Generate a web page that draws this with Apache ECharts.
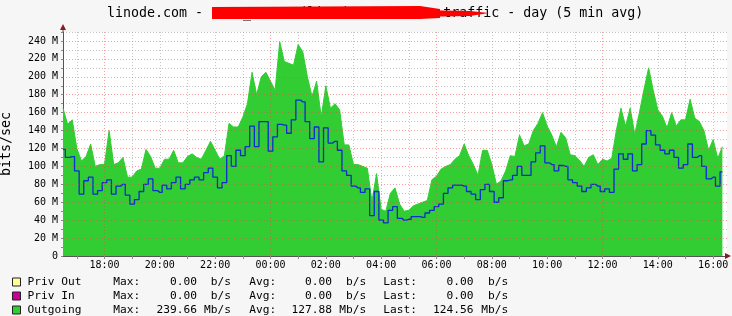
<!DOCTYPE html>
<html>
<head>
<meta charset="utf-8">
<script src="https://cdn.jsdelivr.net/npm/echarts@6/dist/echarts.min.js"></script>
<style>
html,body{margin:0;padding:0;background:#f6f6f6;}
#c{width:732px;height:316px;}
</style>
</head>
<body>
<div id="c"></div>
<script>
// ---------- data ----------
const titleText = 'linode.com - LISE_MAS01 (linode2332888) - traffic - day (5 min avg)';
const yAxisName = 'bits/sec';
const startMinutes = 16 * 60 + 30;   // 16:30
const stepMinutes = 10;
const slotCount = 145;               // 16:30 .. 16:30 next day

// Outgoing (green area), Mbit/s, one value per 10 minutes from 16:30
const outgoing = [
  165,147,152,120,106,111,125,100,102,102,
  140,102,104,110,88,88,95,97,119,111,
  98,98,108,108,118,104,104,111,114,110,
  108,118,128,118,108,112,148,144,144,155,
  170,205,180,200,205,195,185,239,
  217,215,213,236,228,200,178,195,155,190,
  165,170,163,124,124,102,102,100,98,61,
  92,52,50,70,76,58,50,51,56,58,
  60,62,85,89,97,100,102,108,112,125,
  112,102,90,118,118,102,80,
  84,95,112,111,135,123,125,140,148,160,
  145,135,122,138,132,113,112,107,100,110,
  113,102,108,106,109,140,165,145,165,136,
  160,186,210,185,163,156,143,160,145,152,
  152,175,154,150,140,118,130,109,122
];
// blue line, Mbit/s
const incoming = [
  119,110,111,95,69,84,88,69,73,82,
  85,69,78,80,68,58,63,72,80,86,
  73,71,79,75,82,88,75,80,85,88,
  85,93,98,88,76,82,112,100,118,112,
  122,145,122,150,150,117,133,147,
  146,137,152,174,172,150,131,144,105,143,
  126,128,118,95,90,78,76,71,75,45,
  72,40,37,51,55,42,40,41,44,44,
  43,48,51,55,58,70,76,79,79,78,
  72,69,63,74,80,72,60,
  65,84,85,90,100,90,90,105,115,123,
  104,102,95,101,100,85,82,78,72,76,
  80,78,72,75,71,97,114,108,114,95,
  102,125,140,135,124,118,114,118,110,98,
  102,125,110,112,100,86,88,78,94
];

const legendNames = ['Priv Out', 'Priv In', 'Outgoing'];
const legendColors = ['#ffff99', '#cc0099', '#32cd32'];
const maxVals  = ['0.00', '0.00', '239.66'];
const avgVals  = ['0.00', '0.00', '127.88'];
const lastVals = ['0.00', '0.00', '124.56'];
const units    = ['b/s', 'b/s', 'Mb/s'];

// ---------- build ----------
const pad = n => (n < 10 ? '0' : '') + n;
const categories = [];
for (let i = 0; i < slotCount; i++) {
  const m = (startMinutes + i * stepMinutes) % 1440;
  categories.push(pad(Math.floor(m / 60)) + ':' + pad(m % 60));
}
const hourOf = v => parseInt(v.slice(0, 2), 10);
const isHour = v => v.slice(3) === '00';

const MONO = '"DejaVu Sans Mono", monospace';
const greyGrid = 'rgba(150,150,150,0.55)';
const redGrid = 'rgba(235,70,70,0.5)';

const chart = echarts.init(document.getElementById('c'), null, {renderer: 'canvas'});

const graphics = [];
// red redaction strokes over the title
graphics.push({type: 'polygon', z: 100, shape: {points: [[212, 7], [420, 6], [440, 9], [440, 18], [420, 19], [212, 19]]}, style: {fill: '#ff0000'}});
graphics.push({type: 'polygon', z: 100, shape: {points: [[415, 10], [470, 11], [489, 13], [470, 16], [415, 17]]}, style: {fill: '#ff0000'}});
// axis arrows
graphics.push({type: 'polygon', z: 50, shape: {points: [[60, 30], [66, 30], [63, 24]]}, style: {fill: '#8b1a1a'}});
graphics.push({type: 'line', z: 50, shape: {x1: 63, y1: 30, x2: 63, y2: 32}, style: {stroke: '#555', lineWidth: 1}});
graphics.push({type: 'polygon', z: 50, shape: {points: [[725, 253], [725, 259], [731, 256]]}, style: {fill: '#8b1a1a'}});

// legend statistics columns
const colDefs = [
  {x: 113.3, align: 'left', get: r => 'Max:'},
  {x: 197, align: 'right', get: r => maxVals[r]},
  {x: 231, align: 'right', get: r => units[r]},
  {x: 249.3, align: 'left', get: r => 'Avg:'},
  {x: 332, align: 'right', get: r => avgVals[r]},
  {x: 366.3, align: 'right', get: r => units[r]},
  {x: 383.3, align: 'left', get: r => 'Last:'},
  {x: 473.5, align: 'right', get: r => lastVals[r]},
  {x: 508.3, align: 'right', get: r => units[r]}
];
const rowY = [282, 296, 310];
for (let r = 0; r < legendNames.length; r++) {
  colDefs.forEach(c => {
    graphics.push({
      type: 'text', x: c.x, y: rowY[r],
      style: {text: c.get(r), fill: '#000', fontSize: 11.2, fontFamily: MONO,
        align: c.align, verticalAlign: 'middle', textAlign: c.align, textVerticalAlign: 'middle'}
    });
  });
}

const option = {
  animation: false,
  backgroundColor: '#f6f6f6',
  title: {
    text: titleText, left: 107, top: 7, padding: 0,
    textStyle: {fontFamily: MONO, fontSize: 13.3, fontWeight: 'normal', color: '#000'}
  },
  legend: {
    data: legendNames,
    orient: 'vertical', left: 12, top: 275, height: 44, padding: 0,
    itemWidth: 8, itemHeight: 8, itemGap: 0,
    icon: 'rect',
    itemStyle: {borderColor: '#222', borderWidth: 1},
    selectedMode: false,
    textStyle: {fontFamily: MONO, fontSize: 11.2, color: '#000', lineHeight: 14, padding: [0, 0, 0, 2]}
  },
  grid: {left: 63, right: 5, top: 32, bottom: 60, show: true, backgroundColor: '#ffffff', borderWidth: 0,
    containLabel: false, outerBoundsMode: 'none'},
  xAxis: [{
    type: 'category', data: categories, boundaryGap: false,
    axisLine: {lineStyle: {color: '#555', width: 1}},
    axisTick: {show: true, length: 3, lineStyle: {color: '#888'}, interval: (i, v) => isHour(v)},
    axisLabel: {
      interval: (i, v) => isHour(v) && hourOf(v) % 2 === 0,
      fontFamily: MONO, fontSize: 10, color: '#000', margin: 4
    },
    splitLine: {show: true, interval: (i, v) => isHour(v) && hourOf(v) % 6 !== 0,
      lineStyle: {color: greyGrid, type: [1, 2], width: 1}}
  }, {
    type: 'category', data: categories, boundaryGap: false, position: 'bottom', z: 5,
    axisLine: {show: false}, axisTick: {show: false}, axisLabel: {show: false},
    splitLine: {show: true, interval: (i, v) => isHour(v) && hourOf(v) % 6 === 0,
      lineStyle: {color: redGrid, type: [1, 2], width: 1}}
  }],
  yAxis: [{
    type: 'value', min: 0, max: 250, interval: 10,
    name: yAxisName, nameLocation: 'middle', nameGap: 50,
    nameTextStyle: {fontFamily: MONO, fontSize: 13.3, color: '#000'},
    axisLine: {show: true, lineStyle: {color: '#555', width: 1}},
    axisTick: {show: true, length: 2, inside: false, lineStyle: {color: '#888'}},
    axisLabel: {
      formatter: v => v === 0 ? '0' : (v % 20 === 0 && v <= 240 ? v + ' M' : ''),
      fontFamily: MONO, fontSize: 10, color: '#000', margin: 5
    },
    splitLine: {show: true, lineStyle: {color: ['rgba(0,0,0,0)', greyGrid], type: [1, 2], width: 1}}
  }, {
    type: 'value', min: 0, max: 250, interval: 20, z: 5, position: 'left',
    axisLine: {show: false}, axisTick: {show: false}, axisLabel: {show: false},
    splitLine: {show: true, showMinLine: false, showMaxLine: false,
      lineStyle: {color: redGrid, type: [1, 2], width: 1}}
  }],
  series: [
    {name: 'Priv Out', type: 'line', data: [], itemStyle: {color: legendColors[0]}},
    {name: 'Priv In', type: 'line', data: [], itemStyle: {color: legendColors[1]}},
    {
      name: 'Outgoing', type: 'line', data: outgoing,
      showSymbol: false, symbol: 'none',
      itemStyle: {color: legendColors[2]},
      lineStyle: {color: legendColors[2], width: 1},
      areaStyle: {color: legendColors[2], opacity: 1}
    },
    {
      name: 'Incoming', type: 'line', data: incoming, step: 'middle',
      showSymbol: false, symbol: 'none',
      itemStyle: {color: '#0a2ed0'},
      lineStyle: {color: '#0a2ed0', width: 1.3}
    }
  ],
  graphic: graphics
};
chart.setOption(option);
</script>
</body>
</html>
